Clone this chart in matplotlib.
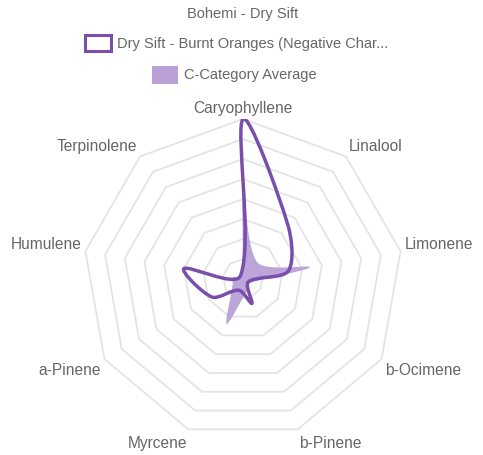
import matplotlib.pyplot as plt
import numpy as np
from matplotlib.path import Path
from matplotlib.patches import PathPatch, Rectangle

title = "Bohemi - Dry Sift"
terpenes = ["Caryophyllene", "Linalool", "Limonene", "b-Ocimene", "b-Pinene",
            "Myrcene", "a-Pinene", "Humulene", "Terpinolene"]
dry_sift = [0.80, 0.35, 0.23, 0.03, 0.13, 0.06, 0.18, 0.30, 0.02]
c_avg = [0.50, 0.11, 0.34, 0.04, 0.06, 0.24, 0.06, 0.05, 0.01]
series_names = ["Dry Sift - Burnt Oranges (Negative Char...", "C-Category Average"]
ring_values = [0.1, 0.2, 0.3, 0.4, 0.5, 0.6, 0.7, 0.8]
scale_max = 0.8

LINE = "#7a4fab"
FILL = "#b9a0d7"
TEXT = "#666666"
GRID = "#e4e4e4"
FONT = "Liberation Sans"

n = len(terpenes)
theta = np.arange(n) * 2 * np.pi / n


def to_xy(values):
    # clockwise from the top, like the Chart.js radar
    v = np.asarray(values, dtype=float)
    return np.column_stack([v * np.sin(theta), v * np.cos(theta)])


def spline_path(pts, tension=0.3):
    """Closed bezier path through pts, Chart.js splineCurve style."""
    m = len(pts)
    ctrl = []
    for i in range(m):
        prev, cur, nxt = pts[i - 1], pts[i], pts[(i + 1) % m]
        d01 = np.hypot(*(cur - prev))
        d12 = np.hypot(*(nxt - cur))
        tot = d01 + d12
        fa = tension * d01 / tot if tot else 0.0
        fb = tension * d12 / tot if tot else 0.0
        ctrl.append((cur - fa * (nxt - prev), cur + fb * (nxt - prev)))
    verts = [pts[0]]
    codes = [Path.MOVETO]
    for i in range(m):
        j = (i + 1) % m
        verts += [ctrl[i][1], ctrl[j][0], pts[j]]
        codes += [Path.CURVE4] * 3
    verts.append(pts[0])
    codes.append(Path.CLOSEPOLY)
    return Path(verts, codes)


W, H = 483, 455
cx, cy, R = 243, 279, 160
fig = plt.figure(figsize=(W / 100, H / 100), dpi=100)
ax = fig.add_axes([(cx - R) / W, (H - cy - R) / H, 2 * R / W, 2 * R / H])
ax.set_xlim(-scale_max, scale_max)
ax.set_ylim(-scale_max, scale_max)
ax.axis("off")

# nonagon grid rings
for rv in ring_values:
    ring = to_xy([rv] * n)
    ring = np.vstack([ring, ring[:1]])
    ax.plot(ring[:, 0], ring[:, 1], color=GRID, lw=1.3, zorder=1)

ax.add_patch(PathPatch(spline_path(to_xy(c_avg)), facecolor=FILL, edgecolor="none",
                       alpha=0.95, zorder=2))
ax.add_patch(PathPatch(spline_path(to_xy(dry_sift)), facecolor="none", edgecolor=LINE,
                       lw=2.5, joinstyle="round", zorder=3))

# point labels just outside the outer ring
label_fs = 15.5 * 0.72
for name, t in zip(terpenes, theta):
    s, c = np.sin(t), np.cos(t)
    ha = "center" if abs(s) < 0.05 else ("left" if s > 0 else "right")
    dy = 5 * c + (6 if c > 0 else -9)
    ax.annotate(name, (scale_max * s, scale_max * c), xytext=(4 * s, dy),
                textcoords="offset pixels", ha=ha, va="center", fontsize=label_fs,
                color=TEXT, family=FONT, annotation_clip=False)

# title and legend in pixel coordinates
fs = 14.6 * 0.72
over = fig.add_axes([0, 0, 1, 1])
over.set_xlim(0, W)
over.set_ylim(H, 0)
over.axis("off")
over.text(243, 14, title, ha="center", va="center", fontsize=fs, color=TEXT, family=FONT)
over.add_patch(Rectangle((84.5, 35), 26, 16, facecolor="white", edgecolor=LINE, lw=2.2))
over.text(117, 44, series_names[0], ha="left", va="center", fontsize=fs, color=TEXT, family=FONT)
over.add_patch(Rectangle((152, 66), 26, 18, facecolor=FILL, edgecolor="none"))
over.text(184, 75, series_names[1], ha="left", va="center", fontsize=fs, color=TEXT, family=FONT)

fig.savefig("out.png", dpi=100)
